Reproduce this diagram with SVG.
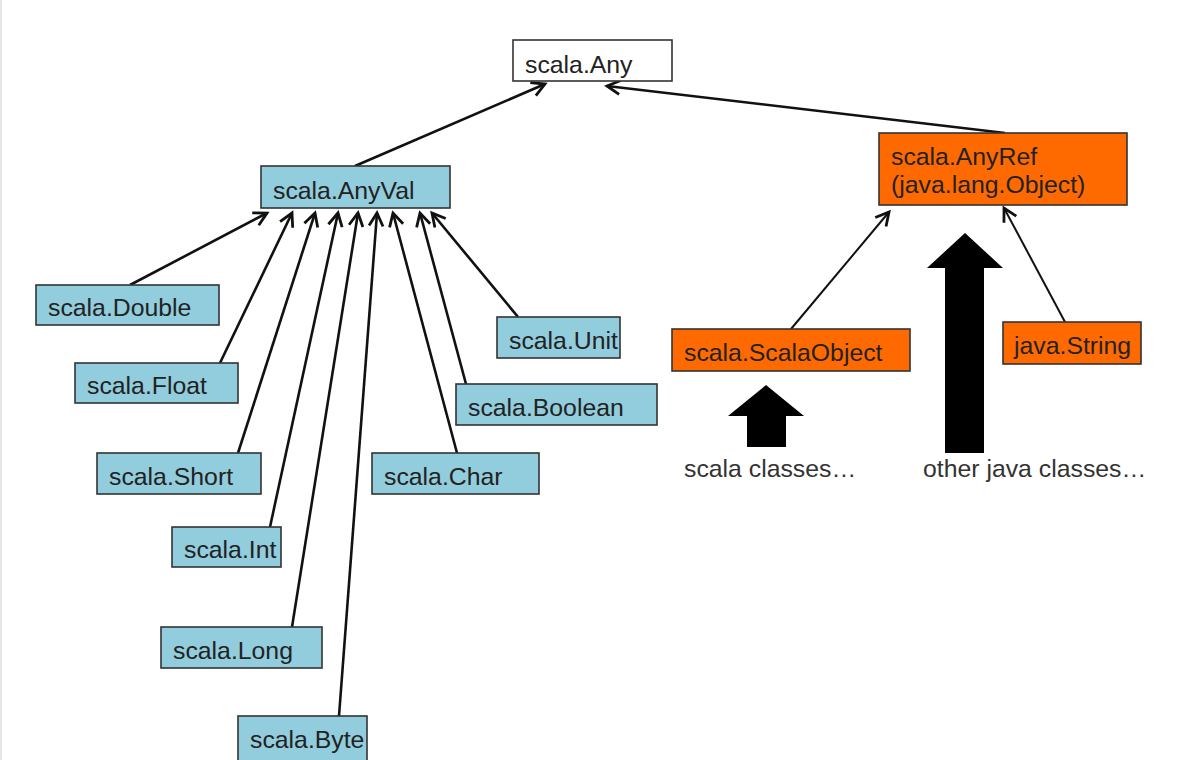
<svg xmlns="http://www.w3.org/2000/svg" width="1181" height="760" viewBox="0 0 1181 760">
<style>
.blue{fill:#92CDDD;stroke:#333;stroke-width:1.6}
.orange{fill:#FF6A00;stroke:#333;stroke-width:1.6}
.white{fill:#fff;stroke:#333;stroke-width:1.6}
text{font-family:"Liberation Sans",Arial,sans-serif;font-size:24.8px;fill:#222}
.cap{fill:#333}
.c{stroke:#111;stroke-width:2.6;fill:none;marker-end:url(#ah)}
.c2{stroke:#111;stroke-width:2;fill:none;marker-end:url(#ah)}
.big{fill:#000}
</style>
<defs>
<marker id="ah" markerUnits="userSpaceOnUse" markerWidth="18" markerHeight="18" refX="14" refY="8" orient="auto" viewBox="0 0 18 16">
<path d="M1,1 L14,8 L1,15" fill="none" stroke="#111" stroke-width="2.8"/>
</marker>
</defs>
<rect width="1181" height="760" fill="#fff"/>
<line x1="1" y1="0" x2="1" y2="760" stroke="#ddd" stroke-width="1.5"/>
<g id="connectors">
<line class="c" x1="355" y1="166" x2="545" y2="84"/>
<line class="c" x1="1005" y1="133" x2="607" y2="86"/>
<line class="c" x1="130" y1="285" x2="267" y2="213"/>
<line class="c" x1="220" y1="363" x2="292" y2="213"/>
<line class="c" x1="238" y1="453" x2="315" y2="213"/>
<line class="c" x1="270" y1="527" x2="338" y2="213"/>
<line class="c" x1="292" y1="627" x2="358" y2="213"/>
<line class="c" x1="339" y1="716" x2="377" y2="213"/>
<line class="c" x1="457" y1="453" x2="393" y2="213"/>
<line class="c" x1="466" y1="384" x2="420" y2="213"/>
<line class="c" x1="518" y1="317" x2="432" y2="213"/>
<line class="c2" x1="791" y1="329" x2="889" y2="212"/>
<line class="c2" x1="1065" y1="322" x2="1004" y2="208"/>
</g>
<g id="any"><rect class="white" x="513" y="40" width="159" height="41"/><text x="525" y="73">scala.Any</text></g>
<g id="anyval"><rect class="blue" x="261" y="166" width="189" height="42"/><text x="273" y="199">scala.AnyVal</text></g>
<g id="anyref"><rect class="orange" x="879" y="133" width="248" height="72"/><text x="891" y="165">scala.AnyRef</text><text x="891" y="193">(java.lang.Object)</text></g>
<g id="double"><rect class="blue" x="36" y="285" width="183" height="40"/><text x="48" y="316">scala.Double</text></g>
<g id="float"><rect class="blue" x="75" y="363" width="163" height="40"/><text x="87" y="394">scala.Float</text></g>
<g id="short"><rect class="blue" x="97" y="453" width="164" height="41"/><text x="109" y="485">scala.Short</text></g>
<g id="int"><rect class="blue" x="172" y="527" width="109" height="40"/><text x="184" y="558">scala.Int</text></g>
<g id="long"><rect class="blue" x="161" y="627" width="161" height="41"/><text x="173" y="659">scala.Long</text></g>
<g id="byte"><rect class="blue" x="238" y="716" width="129" height="50"/><text x="250" y="748">scala.Byte</text></g>
<g id="char"><rect class="blue" x="372" y="453" width="167" height="41"/><text x="384" y="485">scala.Char</text></g>
<g id="boolean"><rect class="blue" x="456" y="384" width="201" height="41"/><text x="468" y="416">scala.Boolean</text></g>
<g id="unit"><rect class="blue" x="497" y="317" width="123" height="41"/><text x="509" y="349">scala.Unit</text></g>
<g id="scalaobject"><rect class="orange" x="672" y="329" width="238" height="42"/><text x="684" y="361">scala.ScalaObject</text></g>
<g id="javastring"><rect class="orange" x="1003" y="322" width="138" height="42"/><text x="1014" y="354">java.String</text></g>
<g id="scala-classes"><path class="big" d="M766,385 L804,416 L786,416 L786,447 L747,447 L747,416 L728,416 Z"/><text class="cap" x="684" y="477">scala classes…</text></g>
<g id="other-java-classes"><path class="big" d="M965,233 L1003,268 L984,268 L984,453 L945,453 L945,268 L927,268 Z"/><text class="cap" x="923" y="477">other java classes…</text></g>
</svg>
